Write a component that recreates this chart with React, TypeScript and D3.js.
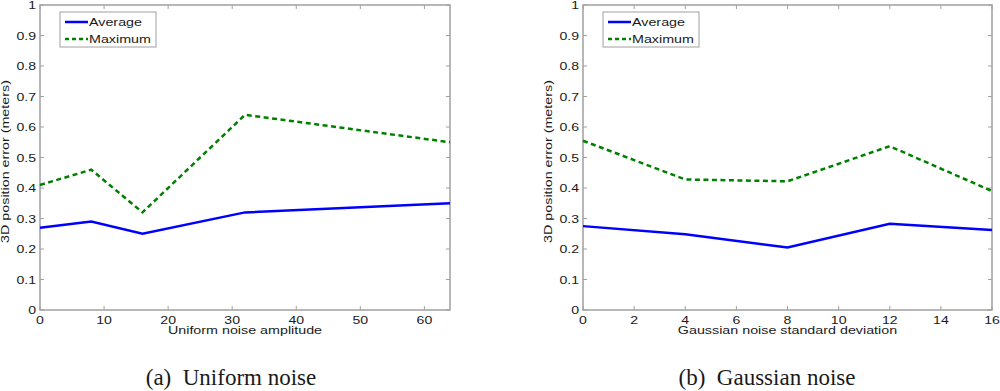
import React, { useEffect, useRef } from 'react';
import * as d3 from 'd3';

// left panel: uniform noise
const uniformX = [0, 8, 16, 32, 64];
const uniformAvg = [0.27, 0.29, 0.25, 0.32, 0.35];
const uniformMax = [0.41, 0.46, 0.32, 0.64, 0.55];

// right panel: gaussian noise
const gaussX = [0, 4, 8, 12, 16];
const gaussAvg = [0.275, 0.248, 0.205, 0.283, 0.262];
const gaussMax = [0.555, 0.428, 0.422, 0.537, 0.39];

const yTicks = [0, 0.1, 0.2, 0.3, 0.4, 0.5, 0.6, 0.7, 0.8, 0.9, 1];
const uniformTicks = [0, 10, 20, 30, 40, 50, 60];
const gaussTicks = [0, 2, 4, 6, 8, 10, 12, 14, 16];

const width = 1000;
const height = 391;
const top = 5;
const bottom = 310;

type Panel = {
  left: number;
  right: number;
  xMax: number;
  xs: number[];
  avg: number[];
  max: number[];
  ticks: number[];
  xLabel: string;
  caption: string;
  captionX: number;
};

const panels: Panel[] = [
  { left: 40, right: 450, xMax: 64, xs: uniformX, avg: uniformAvg, max: uniformMax,
    ticks: uniformTicks, xLabel: 'Uniform noise amplitude', caption: '(a)\u00a0\u00a0Uniform noise', captionX: 231 },
  { left: 583, right: 992, xMax: 16, xs: gaussX, avg: gaussAvg, max: gaussMax,
    ticks: gaussTicks, xLabel: 'Gaussian noise standard deviation', caption: '(b)\u00a0\u00a0Gaussian noise', captionX: 767 },
];

const font = 'Liberation Sans, Arial, sans-serif';
const axisColor = '#a0a0a0';
const textColor = '#1a1a1a';
const stretch = 1.28; // the original's sans text is drawn wide

export default function App() {
  const svgRef = useRef<SVGSVGElement>(null);

  useEffect(() => {
    if (!svgRef.current) return;
    const svg = d3.select(svgRef.current);
    svg.selectAll('*').remove();

    const label = (g: any, x: number, y: number, s: string, anchor: string, size = 11, rot = 0, sx = stretch) =>
      g.append('text')
        .attr('transform', `translate(${x},${y}) rotate(${rot}) scale(${sx},1)`)
        .attr('text-anchor', anchor).attr('font-family', font).attr('font-size', size)
        .attr('fill', textColor).text(s);

    panels.forEach(p => {
      const x = d3.scaleLinear().domain([0, p.xMax]).range([p.left, p.right]);
      const y = d3.scaleLinear().domain([0, 1]).range([bottom, top]);
      const g = svg.append('g');

      // ticks on all four sides, pointing inward
      const tickLen = 4;
      p.ticks.forEach(t => {
        g.append('line').attr('x1', x(t)).attr('x2', x(t)).attr('y1', bottom).attr('y2', bottom - tickLen)
          .attr('stroke', axisColor).attr('stroke-width', 1);
        g.append('line').attr('x1', x(t)).attr('x2', x(t)).attr('y1', top).attr('y2', top + tickLen)
          .attr('stroke', axisColor).attr('stroke-width', 1);
        label(g, x(t), bottom + 13.5, d3.format('d')(t), 'middle');
      });
      yTicks.forEach(t => {
        g.append('line').attr('x1', p.left).attr('x2', p.left + tickLen).attr('y1', y(t)).attr('y2', y(t))
          .attr('stroke', axisColor).attr('stroke-width', 1);
        g.append('line').attr('x1', p.right).attr('x2', p.right - tickLen).attr('y1', y(t)).attr('y2', y(t))
          .attr('stroke', axisColor).attr('stroke-width', 1);
        label(g, p.left - 4, y(t) + 4, t === 0 || t === 1 ? String(t) : d3.format('.1f')(t), 'end');
      });

      // box
      g.append('rect').attr('x', p.left).attr('y', top)
        .attr('width', p.right - p.left).attr('height', bottom - top)
        .attr('fill', 'none').attr('stroke', axisColor).attr('stroke-width', 1.5);

      // series
      const line = d3.line<[number, number]>().x(d => x(d[0])).y(d => y(d[1]));
      g.append('path').datum(p.xs.map((v, i) => [v, p.max[i]] as [number, number]))
        .attr('d', line).attr('fill', 'none').attr('stroke', '#008000')
        .attr('stroke-width', 2.5).attr('stroke-dasharray', '5,3.5');
      g.append('path').datum(p.xs.map((v, i) => [v, p.avg[i]] as [number, number]))
        .attr('d', line).attr('fill', 'none').attr('stroke', '#0000ff')
        .attr('stroke-width', 2.5);

      // legend
      const lx = p.left + 20;
      const ly = 12;
      g.append('rect').attr('x', lx).attr('y', ly).attr('width', 96).attr('height', 35)
        .attr('fill', 'white').attr('stroke', axisColor).attr('stroke-width', 1);
      const entries = [
        { label: 'Average', color: '#0000ff', dash: null },
        { label: 'Maximum', color: '#008000', dash: '4,3' },
      ];
      entries.forEach((e, i) => {
        const yy = ly + 10 + i * 17;
        g.append('line').attr('x1', lx + 5).attr('x2', lx + 28).attr('y1', yy).attr('y2', yy)
          .attr('stroke', e.color).attr('stroke-width', 2.5)
          .attr('stroke-dasharray', e.dash);
        label(g, lx + 29, yy + 4, e.label, 'start', 11, 0, 1.3);
      });

      // axis labels
      label(g, (p.left + p.right) / 2, 334, p.xLabel, 'middle', 11, 0, 1.3);
      label(g, p.left - 31, (top + bottom) / 2 + 4, '3D position error (meters)', 'middle', 11, -90, 1.3);

      // caption
      g.append('text').attr('x', p.captionX).attr('y', 385)
        .attr('text-anchor', 'middle').attr('font-family', 'Liberation Serif, Times New Roman, serif')
        .attr('font-size', 23).attr('fill', textColor).text(p.caption);
    });
  }, []);

  return (
    <div style={{ position: 'absolute', left: 0, top: 0 }}>
      <svg ref={svgRef} width={width} height={height} style={{ display: 'block', background: 'white' }} />
    </div>
  );
}
